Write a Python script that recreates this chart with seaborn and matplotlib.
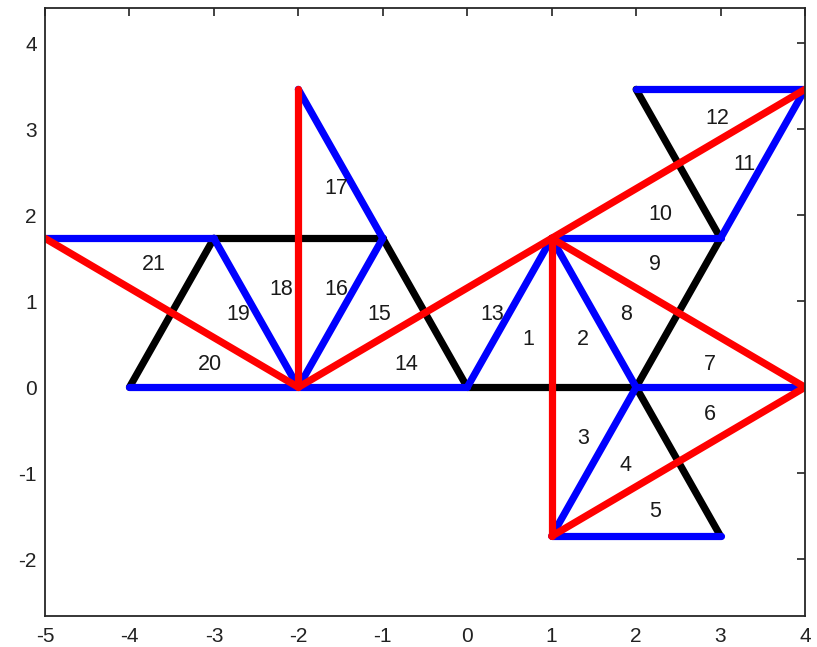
import matplotlib
matplotlib.use("Agg")
import matplotlib.pyplot as plt
import seaborn as sns
import pandas as pd

# Segment endpoints (x0, y0, x1, y1) grouped by colour
black_segments = [
    (-4.0, 0.0, -3.0, 1.732),
    (-3.0, 1.732, -1.0, 1.732),
    (-1.0, 1.732, 0.0, 0.0),
    (0.0, 0.0, 2.0, 0.0),
    (2.0, 0.0, 3.0, 1.732),
    (2.0, 3.464, 3.0, 1.732),
    (2.0, 0.0, 3.0, -1.732),
]
blue_segments = [
    (-5.0, 1.732, -3.0, 1.732),
    (-3.0, 1.732, -2.0, 0.0),
    (-4.0, 0.0, -2.0, 0.0),
    (-2.0, 0.0, 0.0, 0.0),
    (-2.0, 0.0, -1.0, 1.732),
    (-1.0, 1.732, -2.0, 3.464),
    (0.0, 0.0, 1.0, 1.732),
    (1.0, 1.732, 2.0, 0.0),
    (1.0, 1.732, 3.0, 1.732),
    (3.0, 1.732, 4.0, 3.464),
    (2.0, 3.464, 4.0, 3.464),
    (2.0, 0.0, 4.0, 0.0),
    (2.0, 0.0, 1.0, -1.732),
    (1.0, -1.732, 3.0, -1.732),
]
red_segments = [
    (-5.0, 1.732, -2.0, 0.0),
    (-2.0, 0.0, -2.0, 3.464),
    (-2.0, 0.0, 4.0, 3.464),
    (1.0, 1.732, 1.0, -1.732),
    (1.0, 1.732, 4.0, 0.0),
    (1.0, -1.732, 4.0, 0.0),
]

# Triangle numbers and the point each one is written at
label_text = [str(i) for i in range(1, 22)]
label_x = [0.72, 1.37, 1.37, 1.88, 2.22, 2.87, 2.87, 1.88, 2.22, 2.29,
           3.28, 2.96, 0.30, -0.72, -1.04, -1.55, -1.55, -2.20, -2.71, -3.05, -3.71]
label_y = [0.577, 0.577, -0.577, -0.886, -1.42, -0.29, 0.29, 0.874, 1.457, 2.028,
           2.611, 3.155, 0.874, 0.288, 0.874, 1.166, 2.331, 1.166, 0.874, 0.29, 1.457]

x_ticks = [-5, -4, -3, -2, -1, 0, 1, 2, 3, 4]
y_ticks = [-2, -1, 0, 1, 2, 3, 4]


def to_frame(segments):
    rows = []
    for k, (x0, y0, x1, y1) in enumerate(segments):
        rows.append({"seg": k, "order": 0, "x": x0, "y": y0})
        rows.append({"seg": k, "order": 1, "x": x1, "y": y1})
    return pd.DataFrame(rows)


sns.set_theme(style="white")
plt.rcParams["font.family"] = ["Liberation Sans", "DejaVu Sans"]
plt.rcParams["axes.unicode_minus"] = False

fig = plt.figure(figsize=(8.17, 6.47), dpi=100)
ax = fig.add_axes([45 / 817, 1 - 616 / 647, 760 / 817, 608 / 647])

for segs, col in [(black_segments, "#000000"),
                  (blue_segments, "#0000ff"),
                  (red_segments, "#ff0000")]:
    sns.lineplot(data=to_frame(segs), x="x", y="y", units="seg",
                 estimator=None, sort=False, color=col, linewidth=5.2,
                 solid_capstyle="round", legend=False, ax=ax)

for t, lx, ly in zip(label_text, label_x, label_y):
    ax.annotate(t, (lx, ly), xytext=(0, -1.5), textcoords="offset points",
                ha="center", va="center", fontsize=15.5, color="#1a1a1a")

ax.set_xlim(-5, 4)
ax.set_ylim(-2.66, 4.41)
ax.set_xticks(x_ticks)
ax.set_yticks(y_ticks)
ax.set_xlabel("")
ax.set_ylabel("")
ax.tick_params(direction="in", length=6, width=1.2, colors="#222222",
               labelsize=15, top=True, right=True, labeltop=False,
               labelright=False, pad=6)
ax.tick_params(axis="x", pad=8)
for sp in ax.spines.values():
    sp.set_visible(True)
    sp.set_color("#262626")
    sp.set_linewidth(1.3)
ax.grid(False)

fig.savefig("out.png", dpi=100, facecolor="white")
